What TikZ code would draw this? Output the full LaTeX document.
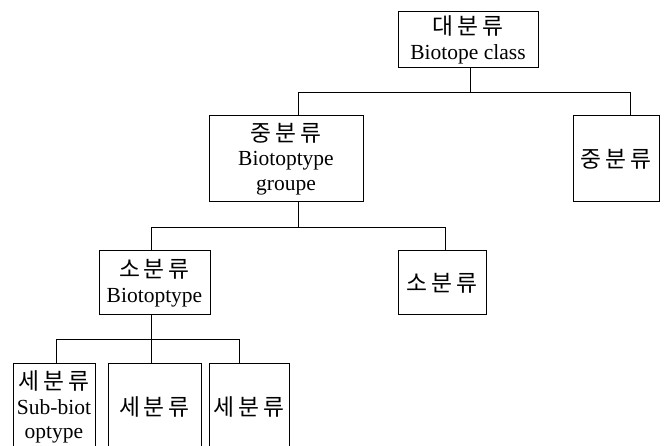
\documentclass[tikz,border=0pt]{standalone}
\usepackage{fontspec}
\setmainfont{Liberation Serif}
\newfontfamily\kr[LetterSpace=16,Scale=1.06]{Noto Sans CJK KR}
\begin{document}
\begin{tikzpicture}[x=1pt,y=-1pt,line width=1pt,
  box/.style={draw,rectangle,inner sep=0pt,align=center,
    font=\fontsize{21.5}{24.5}\selectfont},
  link/.style={draw,line width=1pt}]
\useasboundingbox (0,0) rectangle (664,446);
\node[box,minimum width=140,minimum height=56] (top) at (468,40)
  {{\kr 대분류}\\Biotope class};
\node[box,minimum width=154,minimum height=86] (mida) at (286,159)
  {{\kr 중분류}\\Biotoptype\\groupe};
\node[box,minimum width=86,minimum height=86] (midb) at (616,159)
  {{\kr 중분류}};
\node[box,minimum width=111,minimum height=64] (sma) at (154.5,283)
  {{\kr 소분류}\\Biotoptype};
\node[box,minimum width=88,minimum height=64] (smb) at (442,283)
  {{\kr 소분류}};
\begin{scope}
\clip (0,0) rectangle (664,446);
\node[box,minimum width=82,minimum height=88] (ba) at (54,407)
  {{\kr 세분류}\\Sub-biot\\optype};
\node[box,minimum width=93,minimum height=88] (bb) at (154.5,407)
  {{\kr 세분류}};
\node[box,minimum width=80,minimum height=88] (bc) at (249,407)
  {{\kr 세분류}};
\end{scope}
% level 1
\coordinate (t1) at ([xshift=2]top.south);
\coordinate (ma) at ([xshift=12]mida.north);
\coordinate (mb) at ([xshift=14]midb.north);
\draw[link] (t1) -- ++(0,24) coordinate (j1);
\draw[link] (ma) |- (j1) -| (mb);
% level 2
\coordinate (m1) at ([xshift=12]mida.south);
\coordinate (sa) at ([xshift=-3.5]sma.north);
\coordinate (sb) at ([xshift=3]smb.north);
\draw[link] (m1) -- ++(0,25) coordinate (j2);
\draw[link] (sa) |- (j2) -| (sb);
% level 3
\coordinate (s1) at ([xshift=-3.5]sma.south);
\coordinate (xa) at ([xshift=2]ba.north);
\coordinate (xb) at ([xshift=-3.5]bb.north);
\coordinate (xc) at ([xshift=-10]bc.north);
\draw[link] (s1) -- ++(0,24) coordinate (j3);
\draw[link] (j3) -- (xb);
\draw[link] (xa) |- (j3) -| (xc);
\end{tikzpicture}
\end{document}
